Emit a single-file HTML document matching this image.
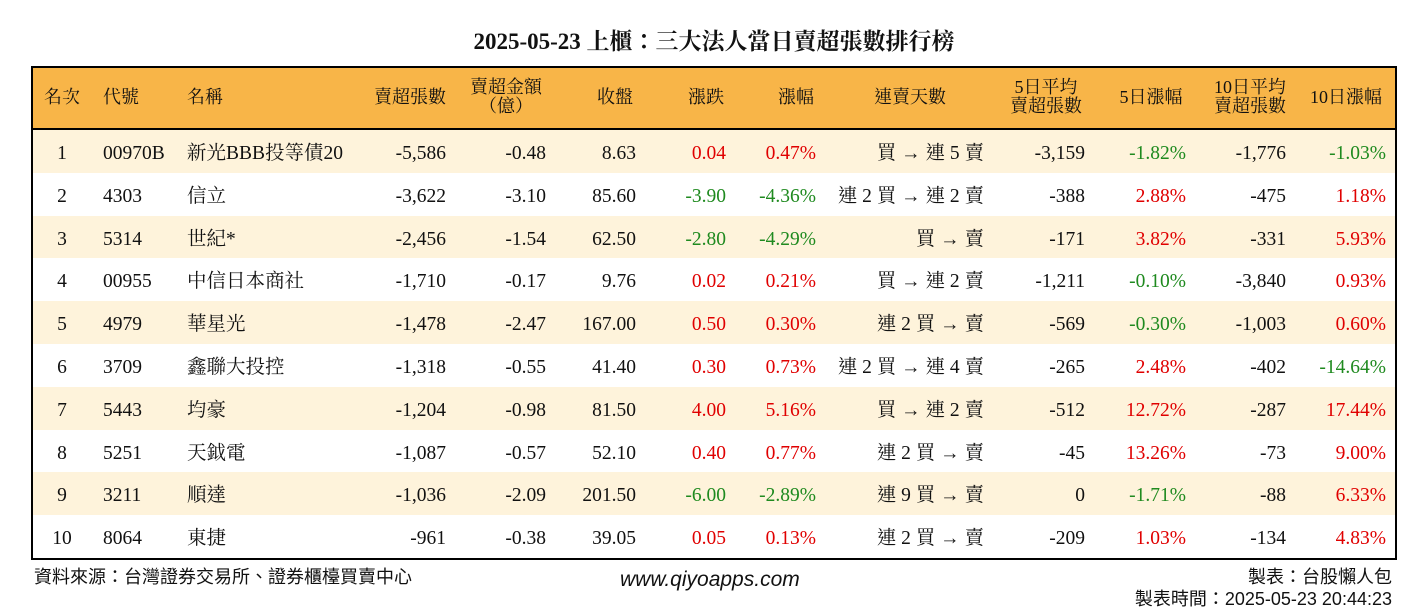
<!DOCTYPE html>
<html><head><meta charset="utf-8"><style>
body{margin:0;width:1428px;height:612px;background:#fff;position:relative;overflow:hidden;font-family:"Liberation Serif","Noto Serif CJK TC","Noto Serif CJK SC",serif;color:#111}
.t{position:absolute;white-space:nowrap;line-height:1}
#title{left:0;width:1428px;text-align:center;top:30px;font-size:23px;font-weight:bold}
#frame{position:absolute;left:31px;top:66px;width:1362px;height:490px;border:2px solid #000;overflow:hidden}
#hdr{position:absolute;left:0;top:0;width:1362px;height:60px;background:#F8B548;border-bottom:2px solid #000}
.row{position:absolute;left:0;width:1362px;height:43px}
.c{position:absolute;font-size:19.5px;white-space:nowrap;line-height:1}
.h{position:absolute;font-size:18px;white-space:nowrap;line-height:1.05;text-align:center}
.foot{position:absolute;font-family:"Liberation Sans","Noto Sans CJK TC",sans-serif;font-size:18px;white-space:nowrap;line-height:1}
</style></head><body>
<div class="t" id="title">2025-05-23 上櫃：三大法人當日賣超張數排行榜</div>
<div id="frame">
<div id="hdr"></div>
</div>
<div class="foot" style="left:34px;top:568px">資料來源：台灣證券交易所、證券櫃檯買賣中心</div>
<div class="foot" style="left:620px;top:569px;font-size:21px;font-style:italic">www.qiyoapps.com</div>
<div class="foot" style="right:36px;top:568px">製表：台股懶人包</div>
<div class="foot" style="right:36px;top:590px">製表時間：2025-05-23 20:44:23</div>
<script>
const ranks=[1,2,3,4,5,6,7,8,9,10];
const codes=["00970B","4303","5314","00955","4979","3709","5443","5251","3211","8064"];
const names=["新光BBB投等債20","信立","世紀*","中信日本商社","華星光","鑫聯大投控","均豪","天鉞電","順達","東捷"];
const netSell=["-5,586","-3,622","-2,456","-1,710","-1,478","-1,318","-1,204","-1,087","-1,036","-961"];
const amount=["-0.48","-3.10","-1.54","-0.17","-2.47","-0.55","-0.98","-0.57","-2.09","-0.38"];
const closes=["8.63","85.60","62.50","9.76","167.00","41.40","81.50","52.10","201.50","39.05"];
const changes=["0.04","-3.90","-2.80","0.02","0.50","0.30","4.00","0.40","-6.00","0.05"];
const pcts=["0.47%","-4.36%","-4.29%","0.21%","0.30%","0.73%","5.16%","0.77%","-2.89%","0.13%"];
const streak=["買 → 連 5 賣","連 2 買 → 連 2 賣","買 → 賣","買 → 連 2 賣","連 2 買 → 賣","連 2 買 → 連 4 賣","買 → 連 2 賣","連 2 買 → 賣","連 9 買 → 賣","連 2 買 → 賣"];
const avg5=["-3,159","-388","-171","-1,211","-569","-265","-512","-45","0","-209"];
const pct5=["-1.82%","2.88%","3.82%","-0.10%","-0.30%","2.48%","12.72%","13.26%","-1.71%","1.03%"];
const avg10=["-1,776","-475","-331","-3,840","-1,003","-402","-287","-73","-88","-134"];
const pct10=["-1.03%","1.18%","5.93%","0.93%","0.60%","-14.64%","17.44%","9.00%","6.33%","4.83%"];
const fr=document.getElementById('frame');
const hdr=document.getElementById('hdr');
const OX=33;
const RH=42.8;
function col(v){return v.startsWith('-')?'#1f8a1f':'#e00000';}
const heads=[["名次",62,"c"],["代號",103,"l"],["名稱",187,"l"],["賣超張數",446,"r"],["賣超金額<br>（億）",506,"c"],["收盤",615,"c"],["漲跌",706,"c"],["漲幅",796,"c"],["連賣天數",910,"c"],["5日平均<br>賣超張數",1046,"c"],["5日漲幅",1151,"c"],["10日平均<br>賣超張數",1250,"c"],["10日漲幅",1346,"c"]];
heads.forEach(h=>{
 const d=document.createElement('div');d.className='h';d.innerHTML=h[0];
 
 
 const two=h[0].includes('<br>');
 d.style.top=(two?10:20)+'px';
 if(h[2]=='l'){d.style.left=(h[1]-OX)+'px';}
 else if(h[2]=='r'){d.style.right=(1362-(h[1]-OX))+'px';}
 else{d.style.left=(h[1]-OX-60)+'px';d.style.width='120px';}
 hdr.appendChild(d);
});
for(let i=0;i<ranks.length;i++){
 const r=document.createElement('div');r.className='row';
 
 
 r.style.top=(62+i*RH)+'px';r.style.height=(RH+0.5)+'px';r.style.background=i%2==0?'#FEF3DB':'#fff';
 const cells=[[ranks[i],62,'c',null],[codes[i],103,'l',null],[names[i],187,'l',null],[netSell[i],446,'r',null],[amount[i],546,'r',null],[closes[i],636,'r',null],[changes[i],726,'r',col(changes[i])],[pcts[i],816,'r',col(pcts[i])],[streak[i],984,'r',null],[avg5[i],1085,'r',null],[pct5[i],1186,'r',col(pct5[i])],[avg10[i],1286,'r',null],[pct10[i],1386,'r',col(pct10[i])]];
 cells.forEach(c=>{
  const d=document.createElement('div');d.className='c';d.textContent=c[0];
  
  
  d.style.top='14px';
  if(c[3])d.style.color=c[3];
  if(c[2]=='l')d.style.left=(c[1]-OX)+'px';
  else if(c[2]=='r')d.style.right=(1362-(c[1]-OX))+'px';
  else{d.style.left=(c[1]-OX-30)+'px';d.style.width='60px';d.style.textAlign='center';}
  r.appendChild(d);
 });
 fr.appendChild(r);
}
</script>
</body></html>
